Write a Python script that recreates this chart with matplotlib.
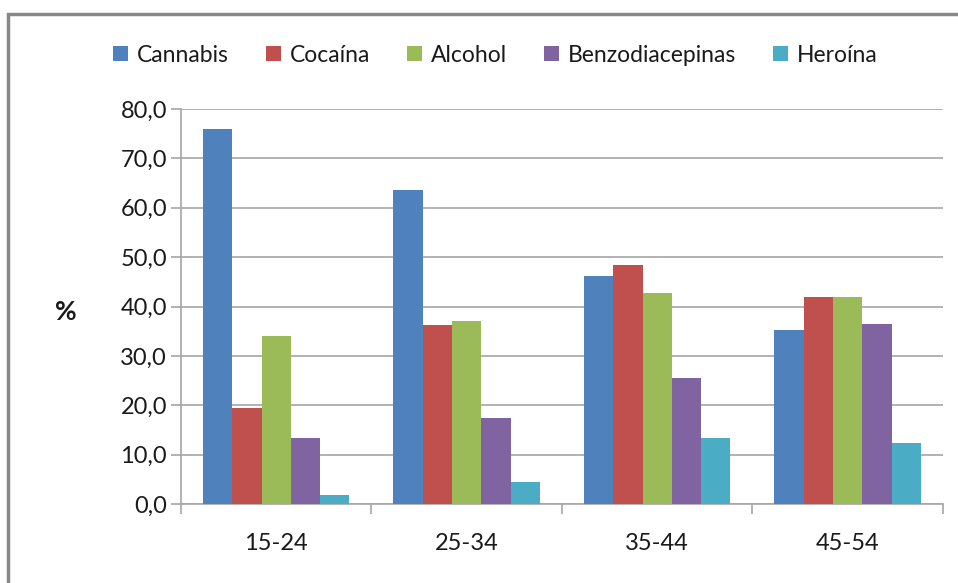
import matplotlib.pyplot as plt
import numpy as np
from matplotlib.patches import Rectangle

plt.rcParams['font.family'] = ['Lato', 'DejaVu Sans']

age_groups = ['15-24', '25-34', '35-44', '45-54']
substances = ['Cannabis', 'Cocaína', 'Alcohol', 'Benzodiacepinas', 'Heroína']
cannabis = [75.9, 63.5, 46.2, 35.2]
cocaina = [19.4, 36.2, 48.4, 42.0]
alcohol = [34.1, 37.1, 42.8, 42.0]
benzo = [13.4, 17.5, 25.5, 36.5]
heroina = [1.8, 4.5, 13.3, 12.3]
colors = ['#4F81BD', '#C0504D', '#9BBB59', '#8064A2', '#4BACC6']

series = [cannabis, cocaina, alcohol, benzo, heroina]

fig = plt.figure(figsize=(9.58, 5.83), dpi=100)
ax = fig.add_axes([0.1889, 0.1355, 0.7954, 0.6775])

grid_color = '#A6A6A6'
text_color = '#1A1A1A'
x = np.arange(len(age_groups))
w = 1 / 6.5
handles = []
for i, (name, vals) in enumerate(zip(substances, series)):
    b = ax.bar(x + (i - 2) * w, vals, width=w, color=colors[i], label=name, zorder=3)
    handles.append(b)

ax.set_xlim(-0.5, 3.5)
ax.set_ylim(0, 80)
ax.set_yticks(np.arange(0, 81, 10))
ax.set_yticklabels([f'{v:.1f}'.replace('.', ',') for v in np.arange(0, 81, 10)], fontsize=17, color=text_color)
ax.yaxis.grid(True, color=grid_color, linewidth=1.2, zorder=0)

ax.set_xticks(np.arange(-0.5, 4, 1))
ax.set_xticklabels([])
ax.set_xticks(x, minor=True)
ax.set_xticklabels(age_groups, minor=True, fontsize=17, color=text_color)
ax.tick_params(axis='x', which='minor', length=0, pad=21)
ax.tick_params(axis='x', which='major', length=7, color=grid_color, width=1.2)
ax.tick_params(axis='y', length=7, color=grid_color, width=1.2, pad=3)

for s in ['top', 'right']:
    ax.spines[s].set_visible(False)
for s in ['left', 'bottom']:
    ax.spines[s].set_color(grid_color)
    ax.spines[s].set_linewidth(1.2)

fig.text(66 / 958, 1 - 312 / 583, '%', fontsize=19, fontweight='bold', ha='center', va='center', color=text_color)

fig.legend(handles=handles, loc='center', bbox_to_anchor=(0.517, 1 - 55 / 583), ncol=5, frameon=False,
           fontsize=16.5, handlelength=0.65, handleheight=0.65, handletextpad=0.4, columnspacing=1.6,
           labelcolor=text_color)

# outer chart border
fig.patches.append(Rectangle((8 / 958, -0.1), 1.2, 1 - 14 / 583 + 0.1, transform=fig.transFigure,
                             fill=False, edgecolor='#888888', linewidth=2.5))

fig.savefig('out.png', dpi=100)
